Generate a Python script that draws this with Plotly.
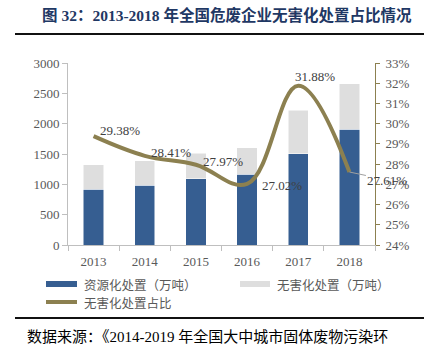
import plotly.graph_objects as go

years = ["2013", "2014", "2015", "2016", "2017", "2018"]
resource_vals = [923, 989, 1093, 1165, 1505, 1912]      # 资源化处置（万吨）
harmless_vals = [396, 396, 423, 439, 720, 742]          # 无害化处置（万吨）
ratio_vals = [29.38, 28.41, 27.97, 27.02, 31.88, 27.61]  # 无害化处置占比 (%)
ratio_labels = ["29.38%", "28.41%", "27.97%", "27.02%", "31.88%", "27.61%"]
label_shift = [(26, 6), (26, 3), (27, 3), (35, -2), (17, 9), (38, -8)]

BLUE = "#365E91"
GRAY = "#DEDEDE"
OLIVE = "#8C8050"
TXT = "#595959"
SERIF = "Liberation Serif, Noto Sans CJK SC"
CJK = "Noto Sans CJK SC, Liberation Serif"

W, H = 424, 353
L, R, T, B = 68, 49, 63, 108
pw, ph = W - L - R, H - T - B

def px(x):
    return (x - L) / pw

def py(y):
    return (H - B - y) / ph

fig = go.Figure()
fig.add_trace(go.Bar(x=years, y=resource_vals, name="资源化处置（万吨）",
                     marker=dict(color=BLUE, line=dict(color="white", width=0.5)),
                     width=0.4, showlegend=False))
fig.add_trace(go.Bar(x=years, y=harmless_vals, name="无害化处置（万吨）",
                     marker=dict(color=GRAY, line=dict(color="white", width=0.5)),
                     width=0.4, showlegend=False))
fig.add_trace(go.Scatter(x=years, y=ratio_vals, yaxis="y2", mode="lines",
                         name="无害化处置占比",
                         line=dict(color=OLIVE, width=4, shape="spline", smoothing=1.1),
                         showlegend=False))

annotations = []
for i, (v, lab, (dx, dy)) in enumerate(zip(ratio_vals, ratio_labels, label_shift)):
    annotations.append(dict(x=i, y=v, xref="x", yref="y2", text=lab, showarrow=False,
                            xshift=dx, yshift=dy,
                            font=dict(family=SERIF, size=13, color="#404040")))
# leader line for last label
annotations[-1].update(showarrow=True, arrowhead=0, arrowwidth=1, arrowcolor="#A0A0A0",
                       ax=38, ay=8, xshift=0, yshift=0, standoff=0)

# title
annotations.append(dict(xref="paper", yref="paper", x=px(40), y=py(15), xanchor="left",
                        yanchor="middle", showarrow=False,
                        text="<b>图 32：2013-2018 年全国危废企业无害化处置占比情况</b>",
                        font=dict(family=SERIF, size=15.5, color="#1F3864")))
# source
annotations.append(dict(xref="paper", yref="paper", x=px(25), y=py(336), xanchor="left",
                        yanchor="middle", showarrow=False,
                        text="数据来源：《2014-2019 年全国大中城市固体废物污染环",
                        font=dict(family=SERIF, size=15, color="#000000")))
# legend texts
for txt, x0, y0 in [("资源化处置（万吨）", 82, 284), ("无害化处置（万吨）", 275, 284),
                    ("无害化处置占比", 82, 302)]:
    annotations.append(dict(xref="paper", yref="paper", x=px(x0), y=py(y0), xanchor="left",
                            yanchor="middle", showarrow=False, text=txt,
                            font=dict(family=CJK, size=12.5, color=TXT)))

shapes = [
    dict(type="line", xref="paper", yref="paper", x0=px(15), x1=px(424), y0=py(34), y1=py(34),
         line=dict(color="#111111", width=2)),
    dict(type="line", xref="paper", yref="paper", x0=px(15), x1=px(424), y0=py(318), y1=py(318),
         line=dict(color="#111111", width=2)),
    dict(type="rect", xref="paper", yref="paper", x0=px(46), x1=px(77), y0=py(281), y1=py(287),
         fillcolor=BLUE, line=dict(width=0)),
    dict(type="rect", xref="paper", yref="paper", x0=px(240), x1=px(270), y0=py(281), y1=py(287),
         fillcolor=GRAY, line=dict(width=0)),
    dict(type="line", xref="paper", yref="paper", x0=px(46), x1=px(77), y0=py(302), y1=py(302),
         line=dict(color=OLIVE, width=4)),
]

fig.update_layout(
    width=W, height=H, margin=dict(l=L, r=R, t=T, b=B),
    paper_bgcolor="white", plot_bgcolor="white",
    barmode="stack", bargap=0.6,
    showlegend=False,
    xaxis=dict(type="category", range=[-0.5, 5.5], showline=True, linecolor="#BFBFBF",
               linewidth=1, ticks="outside", ticklen=5, tickcolor="#BFBFBF",
               tickson="boundaries", ticklabelstandoff=4,
               tickfont=dict(family=SERIF, size=13, color=TXT), showgrid=False),
    yaxis=dict(range=[0, 3000], dtick=500, showline=True, linecolor="#BFBFBF", linewidth=1,
               ticks="outside", ticklen=5, tickcolor="#BFBFBF", showgrid=False, zeroline=False,
               tickfont=dict(family=SERIF, size=13, color=TXT)),
    yaxis2=dict(range=[24, 33], dtick=1, overlaying="y", side="right", showline=True,
                linecolor=OLIVE, linewidth=1, ticks="outside", ticklen=4, tickcolor=OLIVE,
                showgrid=False, zeroline=False, ticksuffix="%", ticklabelstandoff=3,
                tickfont=dict(family=SERIF, size=13, color=TXT)),
    annotations=annotations, shapes=shapes,
)

fig.write_html("out.html")
